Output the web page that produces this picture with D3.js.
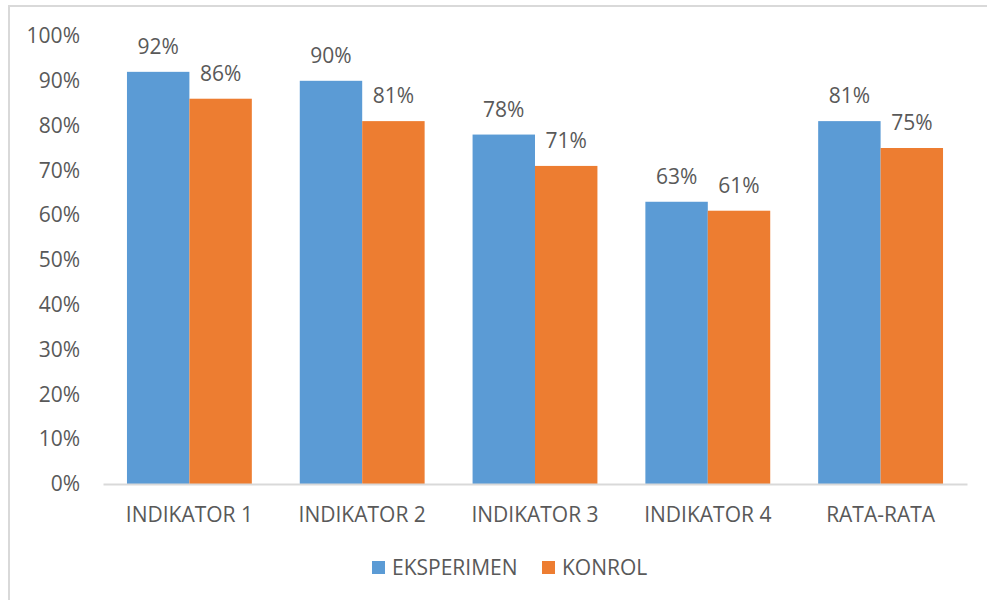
<!DOCTYPE html>
<html><head><meta charset="utf-8">
<script src="https://cdn.jsdelivr.net/npm/d3@7/dist/d3.min.js"></script>
<style>html,body{margin:0;padding:0;background:#fff;}svg{display:block;}</style>
</head><body>
<svg id="c" width="987" height="600"></svg>
<script>
const categories = ["INDIKATOR 1","INDIKATOR 2","INDIKATOR 3","INDIKATOR 4","RATA-RATA"];
const seriesNames = ["EKSPERIMEN","KONROL"];
const eksperimen = [92,90,78,63,81];
const konrol = [86,81,71,61,75];
const yTicks = [0,10,20,30,40,50,60,70,80,90,100];
const colors = ["#5B9BD5","#ED7D31"];

const svg = d3.select("#c");
const font = "'Open Sans', sans-serif";
const fs = 21;
const textColor = "#595959";

svg.append("rect").attr("x",9).attr("y",6).attr("width",1000).attr("height",700)
  .attr("fill","#fff").attr("stroke","#d9d9d9").attr("stroke-width",2);

const m = {left:103, right:967, top:36, bottom:484};
const x0 = d3.scaleBand().domain(categories).range([m.left,m.right]).paddingInner(48/173).paddingOuter(24/173);
const x1 = d3.scaleBand().domain(seriesNames).range([0,x0.bandwidth()]);
const y = d3.scaleLinear().domain([0,100]).range([m.bottom,m.top]);

const yAxis = d3.axisLeft(y).tickValues(yTicks).tickFormat(d=>d+"%").tickSize(0).tickPadding(0);
const ya = svg.append("g").attr("transform","translate(80,0)").call(yAxis);
ya.select(".domain").remove();
ya.selectAll("text").attr("font-family",font).attr("font-size",fs).attr("fill",textColor);

const data = [eksperimen, konrol];
const groups = svg.append("g").selectAll("g").data(categories).join("g")
  .attr("transform",c=>`translate(${x0(c)},0)`);
groups.selectAll("rect").data((c,i)=>seriesNames.map((s,j)=>({s,v:data[j][i]}))).join("rect")
  .attr("x",d=>x1(d.s)).attr("width",x1.bandwidth())
  .attr("y",d=>y(d.v)).attr("height",d=>y(0)-y(d.v))
  .attr("fill",(d,j)=>colors[j]);
groups.selectAll("text").data((c,i)=>seriesNames.map((s,j)=>({s,v:data[j][i]}))).join("text")
  .attr("x",d=>x1(d.s)+x1.bandwidth()/2).attr("y",d=>y(d.v)-18)
  .attr("text-anchor","middle").attr("font-family",font).attr("font-size",fs).attr("fill",textColor)
  .text(d=>d.v+"%");

const xAxis = d3.axisBottom(x0).tickSize(0).tickPadding(0);
const xa = svg.append("g").attr("transform",`translate(0,${m.bottom})`).call(xAxis);
xa.select(".domain").attr("stroke","#d9d9d9").attr("stroke-width",2);
xa.selectAll("text").attr("font-family",font).attr("font-size",fs).attr("fill",textColor)
  .attr("dy",null).attr("y",38);

const legend = svg.append("g");
const lx = [372, 542];
seriesNames.forEach((s,i)=>{
  legend.append("rect").attr("x",lx[i]).attr("y",561).attr("width",13).attr("height",13).attr("fill",colors[i]);
  legend.append("text").attr("x",lx[i]+20).attr("y",575).attr("font-family",font).attr("font-size",fs)
    .attr("fill",textColor).text(s);
});
</script>
</body></html>
